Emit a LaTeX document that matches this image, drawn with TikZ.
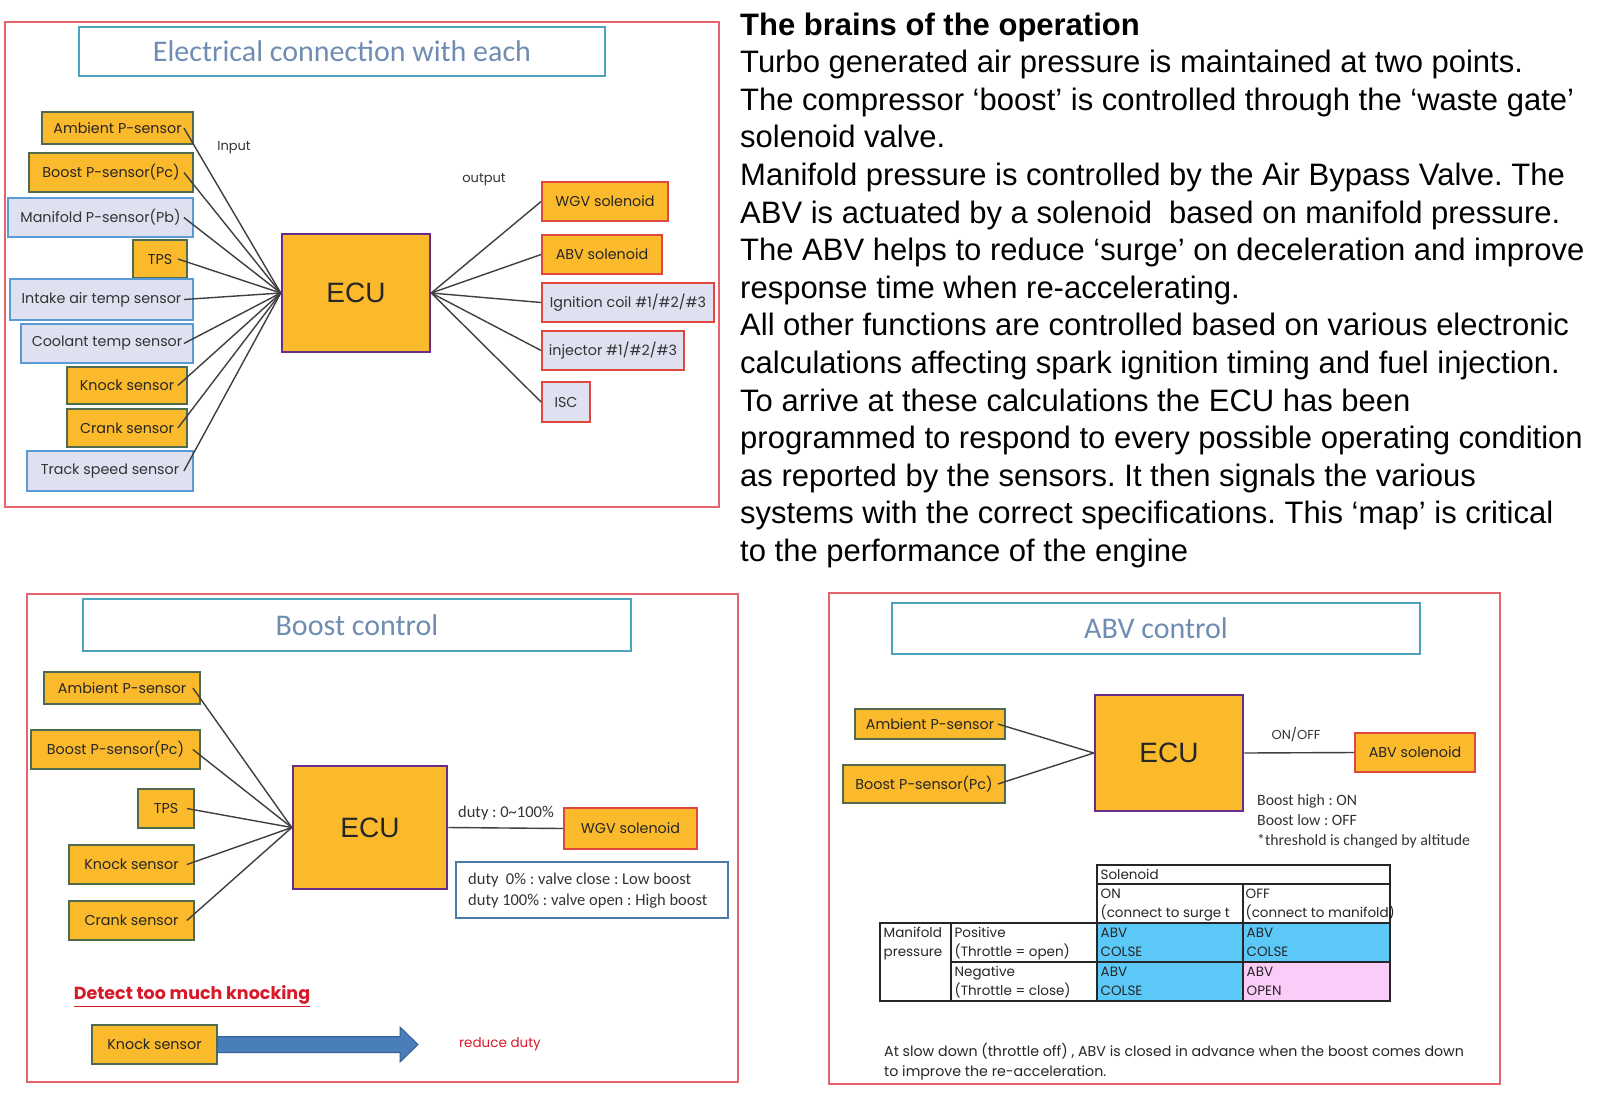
\documentclass[tikz,border=0pt]{standalone}
\usepackage{fontspec}
\setmainfont{Liberation Sans}
\newfontfamily\popfont{Poppins}
\newfontfamily\carlfont{Carlito}
\definecolor{boxorange}{HTML}{FBBA2B}
\definecolor{lav}{HTML}{DFE1F1}
\definecolor{grnborder}{HTML}{4E6B50}
\definecolor{bluborder}{HTML}{5B9BD5}
\definecolor{redborder}{HTML}{E0473F}
\definecolor{ecuborder}{HTML}{6A2C8A}
\definecolor{panelred}{HTML}{E5636B}
\definecolor{titleborder}{HTML}{4BA3BE}
\definecolor{titletext}{HTML}{6F8DB3}
\definecolor{wirec}{HTML}{3F3F3F}
\definecolor{skyblue}{HTML}{5CC8F7}
\definecolor{pinkcell}{HTML}{F9CDF7}
\definecolor{arrowblue}{HTML}{4A7EBB}
\definecolor{arrowdark}{HTML}{35608F}
\definecolor{notered}{HTML}{D8192A}
\newcommand\sensfont{\popfont\fontsize{14.3}{16}\selectfont}
\newcommand\mybox[7]{\node[#1, minimum width={#5-#3}, minimum height={#6-#4}] (#2) at ({(#3+#5)/2},{(#4+#6)/2}) {#7};}
\tikzset{
  panel/.style={draw=panelred, line width=1.2pt},
  ttl/.style={draw=titleborder, line width=2.5pt, fill=white, text=titletext, font=\carlfont\fontsize{30}{34}\selectfont, inner sep=0},
  osens/.style={draw=grnborder, fill=boxorange, line width=1.8pt, inner sep=0, font=\sensfont, text=black!85},
  lsens/.style={draw=bluborder, fill=lav, line width=1.8pt, inner sep=0, font=\sensfont, text=black!80},
  oout/.style={draw=redborder, fill=boxorange, line width=1.8pt, inner sep=0, font=\sensfont, text=black!85},
  lout/.style={draw=redborder, fill=lav, line width=1.8pt, inner sep=0, font=\sensfont, text=black!80},
  ecubox/.style={draw=ecuborder, fill=boxorange, line width=2.5pt, inner sep=0, font=\fontsize{28}{32}\selectfont, text=black!85},
  wire/.style={draw=wirec, line width=1.4pt},
  smlbl/.style={inner sep=0, font=\popfont\fontsize{13}{15}\selectfont, text=black!80},
  carl/.style={inner sep=0, font=\carlfont\fontsize{16.5}{21}\selectfont, text=black!80, align=left},
  para/.style={inner sep=0, anchor=base west, font=\fontsize{31}{37.6}\selectfont},
  cell/.style={draw=black!85, line width=1.1pt, inner sep=0},
  celltxt/.style={inner sep=0, anchor=base west, align=left, font=\popfont\fontsize{13.5}{19}\selectfont, text=black!85},
}
\begin{document}
\frenchspacing
\begin{tikzpicture}[x=1pt,y=-1pt]
\useasboundingbox (0,0) rectangle (1600,1103);
\fill[white] (0,0) rectangle (1600,1103);

% ===== Panel 1: Electrical connection =====
\draw[panel] (5,22) rectangle (719,507);
\mybox{ttl}{t1}{79}{27}{605}{76}{Electrical connection with each}
\mybox{osens}{a1}{42}{112}{193}{144}{Ambient P-sensor}
\mybox{osens}{b1}{29}{153}{193}{192}{Boost P-sensor(Pc)}
\mybox{lsens}{m1}{8}{198}{193}{237}{Manifold P-sensor(Pb)}
\mybox{osens}{tp1}{133}{240}{187}{278}{TPS}
\mybox{lsens}{i1}{10}{279}{193}{320}{Intake air temp sensor}
\mybox{lsens}{c1}{21}{324}{193}{363}{Coolant temp sensor}
\mybox{osens}{k1}{67}{367}{187}{404}{Knock sensor}
\mybox{osens}{cr1}{67}{409}{187}{447}{Crank sensor}
\mybox{lsens}{ts1}{27}{451}{193}{491}{Track speed sensor}
\mybox{ecubox}{ecu1}{282}{234}{430}{352}{ECU}
\mybox{oout}{wgv1}{542}{182}{668}{221}{WGV solenoid}
\mybox{oout}{abv1}{542}{235}{662}{274}{ABV solenoid}
\mybox{lout}{ig1}{542}{283}{714}{322}{Ignition coil \#1/\#2/\#3}
\mybox{lout}{inj1}{542}{331}{684}{370}{injector \#1/\#2/\#3}
\mybox{lout}{isc1}{542}{382}{590}{422}{ISC}
\node[smlbl] (inlbl) at (234,148) {Input};
\node[smlbl] (outlbl) at (484,180) {output};
\foreach \s in {a1,b1,m1,tp1,i1,c1,k1,cr1,ts1}
  \draw[wire] ([xshift=-10pt]\s.east) -- (ecu1.west);
\foreach \s in {wgv1,abv1,ig1,inj1,isc1}
  \draw[wire] (ecu1.east) -- (\s.west);

% ===== Right paragraph =====
\foreach \t [count=\i] in {%
 {\bfseries The brains of the operation},
 {Turbo generated air pressure is maintained at two points.},
 {The compressor ‘boost’ is controlled through the ‘waste gate’},
 {solenoid valve.},
 {Manifold pressure is controlled by the Air Bypass Valve. The},
 {ABV is actuated by a solenoid\ \ based on manifold pressure.},
 {The ABV helps to reduce ‘surge’ on deceleration and improve},
 {response time when re-accelerating.},
 {All other functions are controlled based on various electronic},
 {calculations affecting spark ignition timing and fuel injection.},
 {To arrive at these calculations the ECU has been},
 {programmed to respond to every possible operating condition},
 {as reported by the sensors. It then signals the various},
 {systems with the correct specifications. This ‘map’ is critical},
 {to the performance of the engine}}
  \node[para] (p\i) at (740,{35+37.6*(\i-1)}) {\t};

% ===== Panel 2: Boost control =====
\draw[panel] (27,594) rectangle (738,1082);
\mybox{ttl}{t2}{83}{599}{631}{651}{Boost control}
\mybox{osens}{a2}{44}{672}{200}{704}{Ambient P-sensor}
\mybox{osens}{b2}{31}{730}{200}{769}{Boost P-sensor(Pc)}
\mybox{osens}{tp2}{138}{789}{194}{828}{TPS}
\mybox{osens}{k2}{69}{845}{194}{884}{Knock sensor}
\mybox{osens}{cr2}{69}{901}{194}{940}{Crank sensor}
\mybox{ecubox}{ecu2}{293}{766}{447}{889}{ECU}
\mybox{oout}{wgv2}{564}{808}{697}{849}{WGV solenoid}
\foreach \s in {a2,b2,tp2,k2,cr2}
  \draw[wire] ([xshift=-8pt]\s.east) -- (ecu2.west);
\draw[wire] (ecu2.east) -- (wgv2.west);
\node[carl] (duty) at (506,813) {duty : 0\textasciitilde 100\%};
\node[draw=bluborder!80!black, line width=2pt, fill=white, minimum width=272, minimum height=56, inner sep=0] (note2) at (592,890) {};
\node[carl, anchor=west] (notetxt) at (468,891) {duty\ \ 0\% : valve close : Low boost\\duty 100\% : valve open : High boost};
\node[inner sep=0, text=notered, font=\popfont\bfseries\fontsize{17.5}{20}\selectfont] (detect) at (192,996) {\underline{Detect too much knocking}};
\mybox{osens}{k3}{92}{1025}{217}{1064}{Knock sensor}
\node[inner sep=0, text=notered, font=\popfont\fontsize{13.5}{15}\selectfont] (rd) at (500,1044) {reduce duty};
\filldraw[fill=arrowblue, draw=arrowdark, line width=1pt]
  (k3.east) ++(0,-8) -- (400,1036.5) -- (400,1027) -- (418,1044.5) -- (400,1062) -- (400,1052.5) -- (217,1052.5) -- cycle;

% ===== Panel 3: ABV control =====
\draw[panel] (829,593) rectangle (1500,1084);
\mybox{ttl}{t3}{892}{603}{1420}{654}{ABV control}
\mybox{osens}{a3}{855}{709}{1005}{739}{Ambient P-sensor}
\mybox{osens}{b3}{843}{765}{1005}{803}{Boost P-sensor(Pc)}
\mybox{ecubox}{ecu3}{1095}{695}{1243}{811}{ECU}
\mybox{oout}{abv3}{1355}{733}{1475}{772}{ABV solenoid}
\foreach \s in {a3,b3}
  \draw[wire] ([xshift=-8pt]\s.east) -- (ecu3.west);
\draw[wire] (ecu3.east) -- (abv3.west);
\node[smlbl] (onoff) at (1296,734) {ON/OFF};
\node[carl, anchor=north west, font=\carlfont\fontsize{15.8}{20}\selectfont] (bh) at (1257,794) {Boost high : ON\\Boost low : OFF\\*threshold is changed by altitude};

% table
\mybox{cell}{sol}{1097}{865}{1390}{884}{}
\mybox{cell}{con}{1097}{884}{1243}{923}{}
\mybox{cell}{coff}{1243}{884}{1390}{923}{}
\mybox{cell}{mp}{880}{923}{951}{1001}{}
\mybox{cell}{pos}{951}{923}{1097}{962}{}
\mybox{cell}{neg}{951}{962}{1097}{1001}{}
\mybox{cell, fill=skyblue}{c11}{1097}{923}{1243}{962}{}
\mybox{cell, fill=skyblue}{c12}{1243}{923}{1390}{962}{}
\mybox{cell, fill=skyblue}{c21}{1097}{962}{1243}{1001}{}
\mybox{cell, fill=pinkcell}{c22}{1243}{962}{1390}{1001}{}
\node[celltxt] (solt) at ([shift={(4,15)}]sol.north west) {Solenoid};
\begin{scope}
\clip (1097,884) rectangle (1243,923);
\node[celltxt] (cont) at ([shift={(4,34)}]con.north west) {ON\\(connect to surge t};
\end{scope}
\node[celltxt] (cofft) at ([shift={(3,34)}]coff.north west) {OFF\\(connect to manifold)};
\node[celltxt] (mpt) at ([shift={(4,34)}]mp.north west) {Manifold\\pressure};
\node[celltxt] (post) at ([shift={(4,34)}]pos.north west) {Positive\\(Throttle = open)};
\node[celltxt] (negt) at ([shift={(4,34)}]neg.north west) {Negative\\(Throttle = close)};
\node[celltxt] (c11t) at ([shift={(4,34)}]c11.north west) {ABV\\COLSE};
\node[celltxt] (c12t) at ([shift={(4,34)}]c12.north west) {ABV\\COLSE};
\node[celltxt] (c21t) at ([shift={(4,34)}]c21.north west) {ABV\\COLSE};
\node[celltxt] (c22t) at ([shift={(4,34)}]c22.north west) {ABV\\OPEN};
\node[celltxt, font=\popfont\fontsize{14.2}{20}\selectfont] (foot) at (884,1076) {At slow down (throttle off) , ABV is closed in advance when the boost comes down\\to improve the re-acceleration.};
\end{tikzpicture}
\end{document}
